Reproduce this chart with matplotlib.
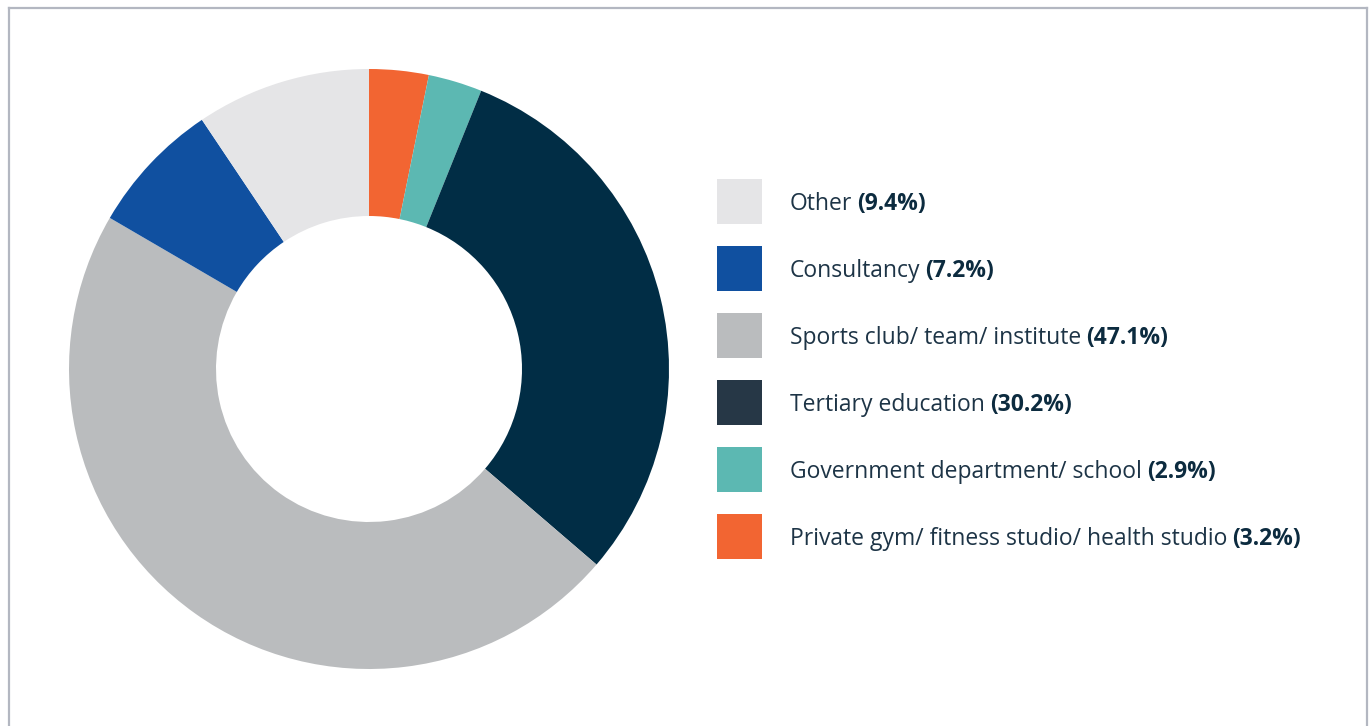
import matplotlib.pyplot as plt
from matplotlib.lines import Line2D
from matplotlib.patches import Rectangle

# sector shares (%), listed clockwise from twelve o'clock
sectors = ['Private gym/ fitness studio/ health studio', 'Government department/ school',
           'Tertiary education', 'Sports club/ team/ institute', 'Consultancy', 'Other']
shares = [3.2, 2.9, 30.2, 47.1, 7.2, 9.4]
wedge_colors = ['#f26532', '#5cb8b2', '#012d45', '#babcbe', '#1050a0', '#e5e5e7']
key_colors = ['#f26532', '#5cb8b2', '#263746', '#babcbe', '#1050a0', '#e5e5e7']

plt.rcParams['font.family'] = ['Open Sans', 'DejaVu Sans']

W, H = 1372, 726
fig = plt.figure(figsize=(W / 100, H / 100), dpi=100)
fig.patch.set_facecolor('white')

# thin grey frame round the panel (open at the bottom)
frame_col = '#b3b7c1'
fig.add_artist(Line2D([8.5 / W, 8.5 / W], [0, 1 - 7.5 / H], color=frame_col, lw=1.6))
fig.add_artist(Line2D([8.5 / W, 1367 / W], [1 - 7.5 / H, 1 - 7.5 / H], color=frame_col, lw=1.6))
fig.add_artist(Line2D([1367 / W, 1367 / W], [0, 1 - 7.5 / H], color=frame_col, lw=1.6))

# donut
ax = fig.add_axes([69 / W, 57 / H, 600 / W, 600 / H])
ax.pie(shares, colors=wedge_colors, startangle=90, counterclock=False, radius=1,
       wedgeprops=dict(width=0.49, linewidth=0))
ax.set_xlim(-1, 1)
ax.set_ylim(-1, 1)
ax.set_aspect('equal')
ax.axis('off')

# legend, top to bottom in reverse of the drawing order
text_col = '#1d3446'
bold_col = '#0c2b3f'
row_top = 179
row_step = 67
box = 45
fs = 16.5
for i, idx in enumerate(reversed(range(len(sectors)))):
    y_top = row_top + i * row_step
    fig.add_artist(Rectangle((717 / W, 1 - (y_top + box) / H), box / W, box / H,
                             transform=fig.transFigure, facecolor=key_colors[idx], edgecolor='none'))
    yc = 1 - (y_top + box / 2 + 2.5) / H
    t = fig.text(790 / W, yc, sectors[idx], fontsize=fs, color=text_col, va='center')
    ax.annotate('({:.1f}%)'.format(shares[idx]), xy=(1, 0), xycoords=t, xytext=(3.5, 0),
                textcoords='offset points', fontsize=fs, fontweight='bold', color=bold_col,
                va='bottom', ha='left', annotation_clip=False)

fig.savefig('out.png', dpi=100)
